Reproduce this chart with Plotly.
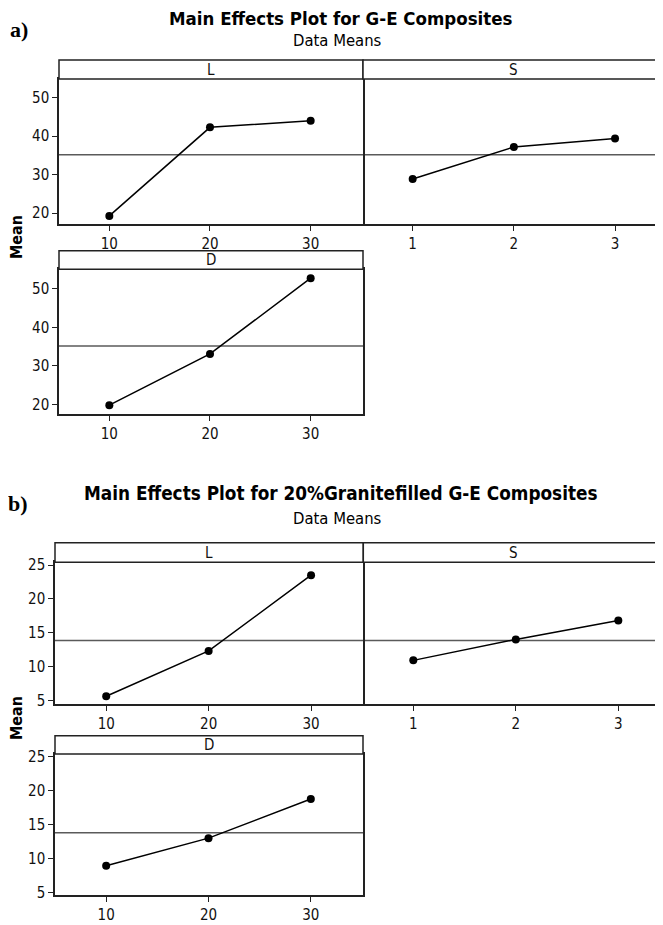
import plotly.graph_objects as go

# ---------------- data ----------------
levels_LD = [10, 20, 30]
levels_S = [1, 2, 3]

# a) G-E composites
a_L = [19.3, 42.3, 44.0]
a_S = [28.9, 37.2, 39.4]
a_D = [19.8, 33.1, 52.8]
a_mean = 35.2

# b) 20% granite filled G-E composites
b_L = [5.6, 12.3, 23.5]
b_S = [10.9, 14.0, 16.8]
b_D = [9.0, 13.05, 18.8]
b_mean = 13.85

a_yticks = [20, 30, 40, 50]
b_yticks = [5, 10, 15, 20, 25]

OFF = 8  # page body margin
W, H = 663 - OFF, 925 - OFF
FONT = "DejaVu Sans Condensed"
LW = 1.5

def px_x(p):
    return (p - OFF) / W

def px_y(p):
    return 1 - (p - OFF) / H

fig = go.Figure()

# S panels start one line width to the right so their left border coincides with the L border
panels = [
    ("L", levels_LD, a_L, a_mean, (59, 363), (79, 224), 60, [5, 35.2], [17.2, 54.85], a_yticks, True),
    ("S", levels_S, a_S, a_mean, (363 + LW, 663), (79, 224), 60, [0.524, 3.474], [17.2, 54.85], a_yticks, False),
    ("D", levels_LD, a_D, a_mean, (59, 363), (269.3, 414), 250.7, [5, 35.2], [17.5, 55.1], a_yticks, True),
    ("L", levels_LD, b_L, b_mean, (55, 363.3), (562.3, 704), 542.7, [5, 35.1], [4.45, 25.4], b_yticks, True),
    ("S", levels_S, b_S, b_mean, (363.3 + LW, 663), (562.3, 704), 542.7, [0.527, 3.436], [4.45, 25.4], b_yticks, False),
    ("D", levels_LD, b_D, b_mean, (55, 363), (754, 895.3), 735.7, [5, 35.1], [4.66, 25.4], b_yticks, True),
]

shapes = []
annotations = []
layout_axes = {}

for i, (name, xs, ys, mean, xpx, ypx, stop, xr, yr, yt, showy) in enumerate(panels, start=1):
    xa = "x" if i == 1 else f"x{i}"
    ya = "y" if i == 1 else f"y{i}"
    xkey = "xaxis" if i == 1 else f"xaxis{i}"
    ykey = "yaxis" if i == 1 else f"yaxis{i}"
    fig.add_trace(go.Scatter(
        x=xs, y=ys, xaxis=xa, yaxis=ya, mode="lines+markers",
        line=dict(color="black", width=1.5),
        marker=dict(color="black", size=8),
        showlegend=False, hoverinfo="x+y"))
    layout_axes[xkey] = dict(
        domain=[px_x(xpx[0]), min(1.0, px_x(xpx[1]))], range=xr, anchor=ya,
        tickvals=xs, ticks="outside", ticklen=5, tickwidth=1, tickcolor="#222",
        showline=True, mirror=True, linecolor="#222", linewidth=LW,
        showgrid=False, zeroline=False, automargin=False,
        tickfont=dict(family=FONT, size=15, color="#111"))
    layout_axes[ykey] = dict(
        domain=[px_y(ypx[1]), px_y(ypx[0])], range=yr, anchor=xa,
        tickvals=yt if showy else [], ticks="outside" if showy else "",
        ticklen=5, tickwidth=1, tickcolor="#222",
        showticklabels=showy,
        showline=True, mirror=True, linecolor="#222", linewidth=LW,
        showgrid=False, zeroline=False, automargin=False,
        tickfont=dict(family=FONT, size=15, color="#111"))
    shapes.append(dict(type="line", xref=f"{xa} domain", yref=ya, x0=0, x1=1,
                       y0=mean, y1=mean, line=dict(color="#5a5a5a", width=1.5), layer="below"))
    sx0 = xpx[0] - (LW if name == "S" else 0)
    shapes.append(dict(type="rect", xref="paper", yref="paper",
                       x0=px_x(sx0), x1=min(1.0, px_x(xpx[1])), y0=px_y(ypx[0]), y1=px_y(stop),
                       line=dict(color="#222", width=LW), fillcolor="white"))
    annotations.append(dict(xref="paper", yref="paper",
                            x=(px_x(sx0) + px_x(xpx[1])) / 2,
                            y=(px_y(ypx[0]) + px_y(stop)) / 2,
                            text=name, showarrow=False, xanchor="center", yanchor="middle",
                            font=dict(family=FONT, size=15, color="#111")))

texts = [
    ("<b>Main Effects Plot for G-E Composites</b>", 340.8, 19, 18.5, FONT),
    ("Data Means", 338, 41, 16.5, FONT),
    ("<b>Main Effects Plot for 20%Granitefilled G-E Composites</b>", 340.7, 493.7, 18.8, FONT),
    ("Data Means", 338, 518, 16.5, FONT),
    ("<b>a)</b>", 19, 29, 22, "Liberation Serif"),
    ("<b>b)</b>", 18, 503, 22, "Liberation Serif"),
]
for t, x, y, s, f in texts:
    annotations.append(dict(xref="paper", yref="paper", x=px_x(x), y=px_y(y), text=t,
                            showarrow=False, xanchor="center", yanchor="middle",
                            font=dict(family=f, size=s, color="black")))
for y in (237.5, 718.5):
    annotations.append(dict(xref="paper", yref="paper", x=px_x(16.5), y=px_y(y),
                            text="<b>Mean</b>", textangle=-90, showarrow=False,
                            xanchor="center", yanchor="middle",
                            font=dict(family=FONT, size=16, color="black")))

fig.update_layout(
    width=W, height=H, autosize=False,
    margin=dict(l=0, r=0, t=0, b=0, autoexpand=False),
    paper_bgcolor="white", plot_bgcolor="white",
    shapes=shapes, annotations=annotations,
    **layout_axes)

fig.write_html("out.html")
